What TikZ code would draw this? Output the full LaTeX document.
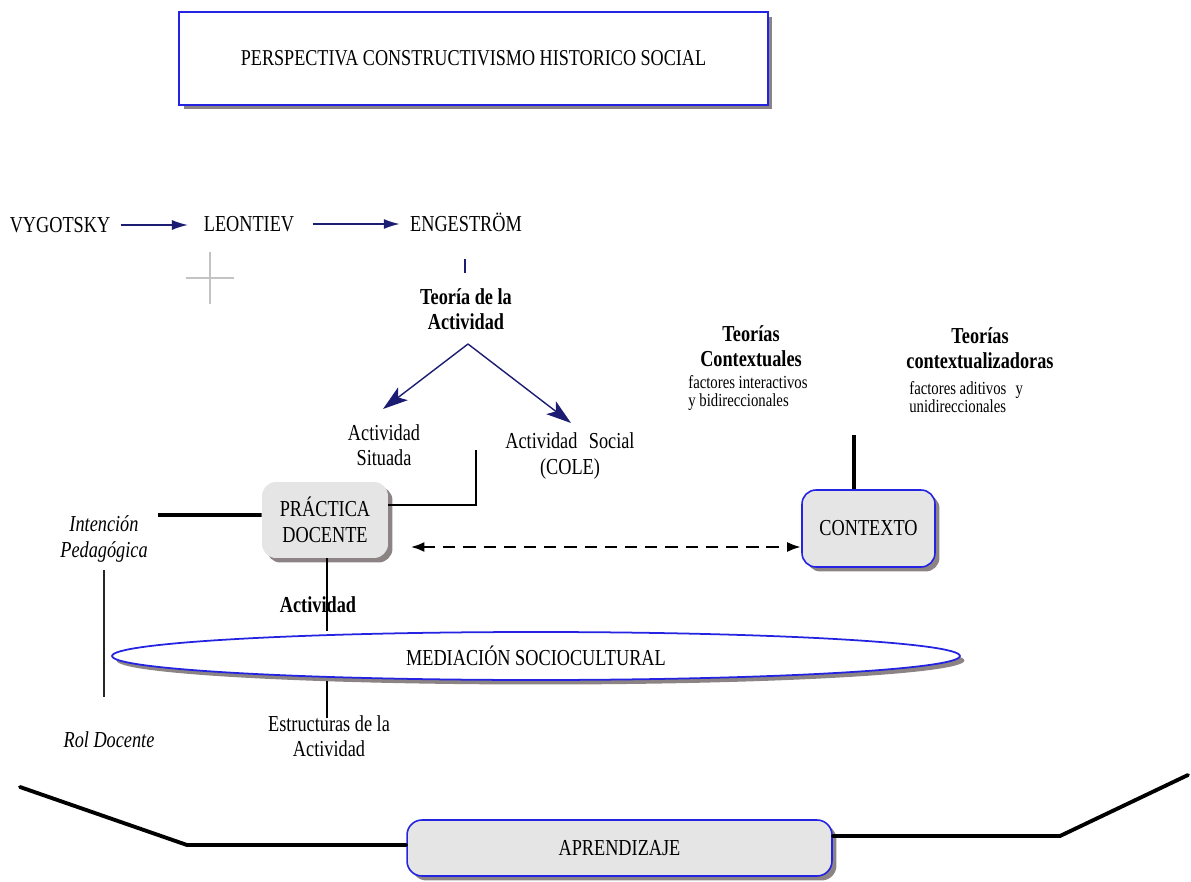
\documentclass[tikz,border=0pt]{standalone}
\usepackage{fontspec}
\setmainfont{Liberation Serif}[FakeStretch=0.8]
\usetikzlibrary{arrows.meta,shapes.geometric,shadows}

\definecolor{navyline}{RGB}{28,28,115}
\definecolor{boxblue}{RGB}{35,35,225}
\definecolor{boxfill}{RGB}{229,229,229}
\definecolor{shadowgray}{RGB}{140,132,132}
\definecolor{crossgray}{RGB}{195,195,195}

\begin{document}
\begin{tikzpicture}[x=0.02cm,y=-0.02cm,
  txt/.style={inner sep=0pt, align=center, font=\fontsize{13}{14.5}\selectfont},
  btxt/.style={txt, font=\fontsize{13}{14.5}\selectfont\bfseries},
  itxt/.style={txt, font=\fontsize{13}{14.5}\selectfont\itshape},
  smalltxt/.style={inner sep=0pt, align=left, anchor=north west, font=\fontsize{10.5}{10.5}\selectfont},
  dshadow/.style={drop shadow={shadow xshift=0.09cm, shadow yshift=-0.09cm, fill=shadowgray, opacity=1}},
  titlebox/.style={draw=boxblue, line width=1pt, fill=white, dshadow, minimum width=11.78cm, minimum height=1.86cm, font=\fontsize{12.9}{14.5}\selectfont},
  greybox/.style={rounded corners=0.28cm, fill=boxfill, dshadow, align=center, font=\fontsize{13}{14.5}\selectfont},
  bluebox/.style={greybox, draw=boxblue, line width=0.9pt},
  navyarrow/.style={navyline, line width=0.9pt, -{Latex[length=0.32cm,width=0.2cm]}},
  splitarrow/.style={navyline, line width=0.8pt, -{Stealth[length=0.5cm,width=0.32cm,inset=0.12cm]}},
  heavy/.style={black, line width=2.2pt},
  thinline/.style={black, line width=0.8pt}
]
\useasboundingbox (0,0) rectangle (1191,882);

% title
\node[titlebox] (title) at (473.5,58.5) {PERSPECTIVA CONSTRUCTIVISMO HISTORICO SOCIAL};

% chain of authors
\node[txt] (vyg) at (60,225) {VYGOTSKY};
\node[txt] (leo) at (249,224) {LEONTIEV};
\node[txt] (eng) at (466,222) {ENGESTRÖM};
\draw[navyarrow, shorten <=0.2cm, shorten >=0.31cm] (vyg.east) -- (vyg.east -| leo.west);
\draw[navyarrow, shorten <=0.36cm, shorten >=0.2cm] (leo.east) -- (leo.east -| eng.west);

% small grey cross
\draw[crossgray, line width=0.8pt] (186,278) -- (234,278) (210,252) -- (210,304);

% activity theory
\coordinate (englow) at (465,259);
\coordinate (enghigh) at (465,273);
\draw[navyline, line width=0.9pt] (englow) -- (enghigh);
\node[btxt] (teo) at (466,309) {Teoría de la\\Actividad};
\coordinate (apex) at (468,344);
\coordinate (tipL) at (383,409);
\coordinate (tipR) at (571,423);
\draw[splitarrow] (apex) -- (tipL);
\draw[splitarrow] (apex) -- (tipR);
\node[txt] (sit) at (384,445) {Actividad\\Situada};
\node[txt] (soc) at (570,456) {Actividad\enspace Social\\(COLE)};

% context theories
\node[btxt] (tctx) at (751,346) {Teorías\\Contextuales};
\node[smalltxt] (tctxs) at (688,375) {factores interactivos\\y bidireccionales};
\node[btxt] (tctz) at (980,348) {Teorías\\contextualizadoras};
\node[smalltxt] (tctzs) at (909,381) {factores aditivos\enspace y\\unidireccionales};

% teaching practice and context
\node[greybox, minimum width=2.52cm, minimum height=1.52cm] (pd) at (325,520) {PRÁCTICA\\DOCENTE};
\node[bluebox, minimum width=2.66cm, minimum height=1.54cm] (ctx) at (868.5,528.5) {CONTEXTO};

\coordinate (socfoot) at (476,450);
\draw[black, line width=1.7pt] (socfoot) |- ([yshift=0.3cm]pd.east);

\node[itxt] (int) at (104,539) {Intención\\Pedagógica};
\node[itxt] (rol) at (109,740) {Rol Docente};
\coordinate (intend) at (158,515);
\draw[heavy] (intend) -- ([yshift=0.1cm]pd.west);
\coordinate (roltop) at (104,570);
\coordinate (rolbot) at (104,697);
\draw[black!85, line width=1pt] (roltop) -- (rolbot);

\coordinate (ctxline) at (854,435);
\draw[heavy] (ctxline) -- (ctxline |- ctx.north);

\draw[black, line width=1.7pt, dash pattern=on 7pt off 4.5pt,
      {Latex[length=0.28cm,width=0.2cm]}-{Latex[length=0.28cm,width=0.2cm]},
      shorten <=0.44cm]
  ([yshift=-0.54cm]pd.east) -- ([yshift=-0.54cm]pd.east -| ctx.west);

% sociocultural mediation
\node[ellipse, draw=boxblue, line width=1pt, fill=white, dshadow, inner sep=0pt,
      minimum width=16.96cm, minimum height=0.96cm, font=\fontsize{13}{14.5}\selectfont] (med) at (536,656) {MEDIACIÓN SOCIOCULTURAL};

\coordinate (estfoot) at (327,718);
\draw[thinline] ([xshift=0.04cm]pd.south) -- ([xshift=0.04cm]pd.south |- med.north);
\draw[thinline] (estfoot |- med.south) -- (estfoot);
\node[btxt] (act) at (318,605) {Actividad};
\node[txt] (est) at (329,736) {Estructuras de la\\Actividad};

% learning
\node[bluebox, rounded corners=0.3cm, minimum width=8.5cm, minimum height=1.12cm] (apr) at (619.5,848) {APRENDIZAJE};
\coordinate (lfar) at (20,787);
\coordinate (lknee) at (187,845);
\coordinate (rknee) at (1060,836);
\coordinate (rfar) at (1188,775);
\draw[heavy, line cap=round, line join=round] (lfar) -- (lknee) -- ([yshift=0.06cm]apr.west);
\draw[heavy, line cap=round, line join=round] ([yshift=0.24cm]apr.east) -- (rknee) -- (rfar);
\end{tikzpicture}
\end{document}
